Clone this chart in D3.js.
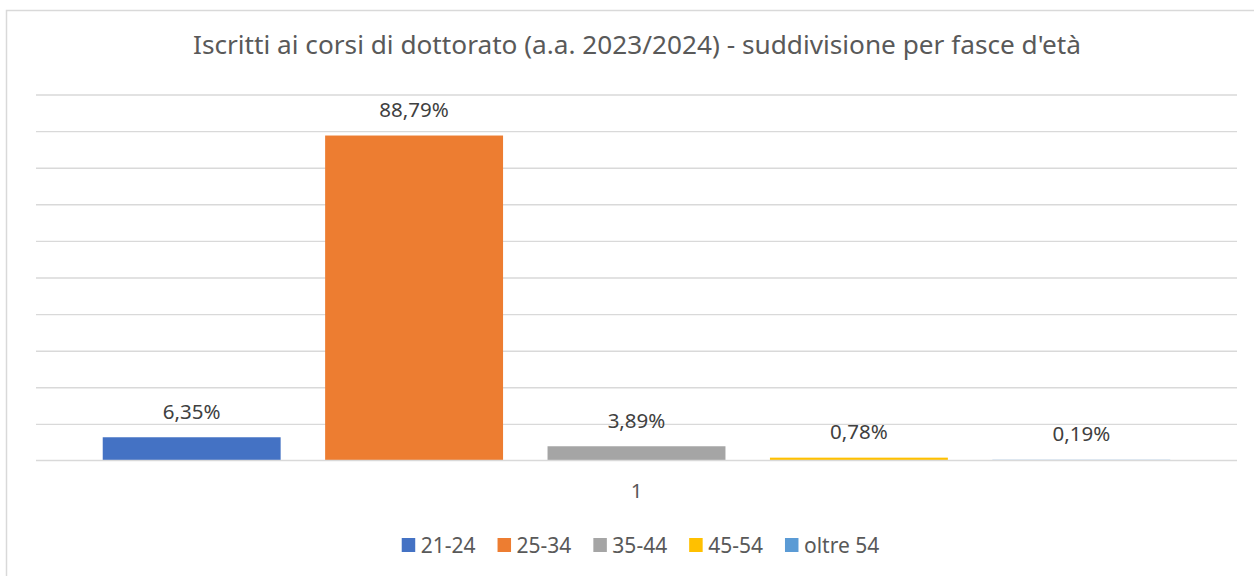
<!DOCTYPE html>
<html>
<head>
<meta charset="utf-8">
<script src="https://cdn.jsdelivr.net/npm/d3@7"></script>
<style>
  body { margin: 0; background: #fff; }
  svg { display: block; font-family: "Noto Sans", "Open Sans", sans-serif; }
</style>
</head>
<body>
<div id="chart"></div>
<script>
// data
const categories = ["1"]
const series = ["21-24", "25-34", "35-44", "45-54", "oltre 54"]
const values = [6.35, 88.79, 3.89, 0.78, 0.19]
const yTickValues = [0, 10, 20, 30, 40, 50, 60, 70, 80, 90, 100]
const title = "Iscritti ai corsi di dottorato (a.a. 2023/2024) - suddivisione per fasce d'età"

const width = 1254,
      height = 576

const plot = { left: 36, right: 1237, top: 94.5, bottom: 460.5 }

const svg = d3.select('#chart')
    .append('svg')
    .attr('width', width)
    .attr('height', height)

// chart frame (only top and left edges fall inside the picture)
svg.append('rect')
    .attr('x', 6.5)
    .attr('y', 10.5)
    .attr('width', 1300)
    .attr('height', 700)
    .attr('fill', 'none')
    .attr('stroke', '#d9d9d9')
    .attr('stroke-width', 1.5)

svg.append('text')
    .attr('x', 193)
    .attr('y', 54)
    .attr('font-size', 25)
    .attr('fill', '#595959')
    .attr('textLength', 888)
    .attr('lengthAdjust', 'spacingAndGlyphs')
    .text(title)

let y = d3.scaleLinear()
        .domain([0, 100])
        .range([plot.bottom, plot.top])

let x0 = d3.scaleBand()
        .domain(categories)
        .range([plot.left, plot.right])

let x1 = d3.scaleBand()
        .domain(series)
        .range([0, x0.bandwidth()])
        .paddingInner(0.2)
        .paddingOuter(0.3)

let color = d3.scaleOrdinal()
        .domain(series)
        .range(['#4472C4', '#ED7D31', '#A5A5A5', '#FFC000', '#5B9BD5'])

// gridlines (the zero line is drawn later, over the bars)
let grid = svg.append('g')
    .attr('transform', `translate(${plot.left}, 0)`)
    .call(d3.axisLeft(y).tickValues(yTickValues.filter(v => v > 0)).tickSize(-(plot.right - plot.left)).tickFormat(''))
grid.select('.domain').remove()
grid.selectAll('line')
    .attr('stroke', '#d9d9d9')
    .attr('stroke-width', 1.4)

const rows = series.map((s, i) => ({ series: s, value: values[i] }))

let groups = svg.selectAll('.cat')
    .data(categories)
    .enter().append('g')
    .attr('class', 'cat')
    .attr('transform', d => `translate(${x0(d)}, 0)`)

groups.selectAll('rect')
    .data(rows)
    .enter()
    .append('rect')
    .attr('x', d => x1(d.series))
    .attr('y', d => y(d.value))
    .attr('width', x1.bandwidth())
    .attr('height', d => y(0) - y(d.value))
    .attr('fill', d => color(d.series))

groups.selectAll('.label')
    .data(rows)
    .enter()
    .append('text')
    .attr('class', 'label')
    .attr('x', d => x1(d.series) + x1.bandwidth() / 2)
    .attr('y', d => y(d.value) - 18.5)
    .attr('text-anchor', 'middle')
    .attr('font-size', 20.5)
    .attr('fill', '#404040')
    .text(d => d.value.toFixed(2).replace('.', ',') + '%')

// category axis line
svg.append('line')
    .attr('x1', plot.left)
    .attr('x2', plot.right)
    .attr('y1', y(0))
    .attr('y2', y(0))
    .attr('stroke', '#d9d9d9')
    .attr('stroke-width', 1.6)

// category axis label
svg.selectAll('.cat-label')
    .data(categories)
    .enter()
    .append('text')
    .attr('class', 'cat-label')
    .attr('x', d => x0(d) + x0.bandwidth() / 2)
    .attr('y', 498)
    .attr('text-anchor', 'middle')
    .attr('font-size', 20.5)
    .attr('fill', '#595959')
    .text(d => d)

// legend, laid out from measured text widths and centred
let legend = svg.append('g')
let items = legend.selectAll('.legend')
    .data(series)
    .enter().append('g')
    .attr('class', 'legend')
items.append('rect')
    .attr('width', 13.5)
    .attr('height', 14)
    .attr('y', 538)
    .attr('fill', d => color(d))
items.append('text')
    .attr('x', 19)
    .attr('y', 553)
    .attr('font-size', 21)
    .attr('fill', '#595959')
    .text(d => d)

let offset = 0
items.each(function () {
    let w = d3.select(this).select('text').node().getComputedTextLength()
    d3.select(this).attr('transform', `translate(${offset}, 0)`)
    offset += 19 + w + 22
})
let total = offset - 22
legend.attr('transform', `translate(${640.5 - total / 2}, 0)`)
</script>
</body>
</html>
